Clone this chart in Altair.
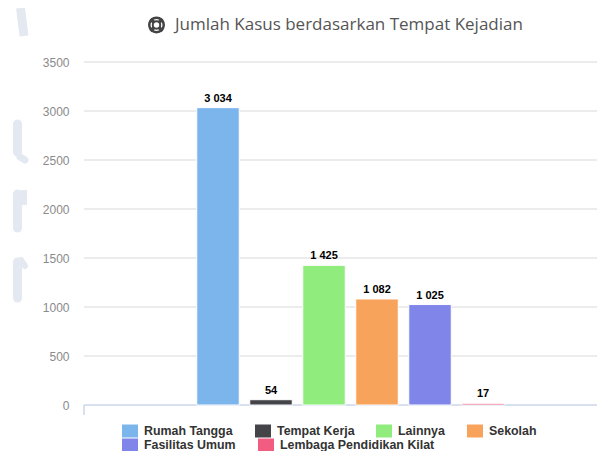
import altair as alt
import pandas as pd

categories = ["Rumah Tangga", "Tempat Kerja", "Lainnya", "Sekolah", "Fasilitas Umum", "Lembaga Pendidikan Kilat"]
values = [3034, 54, 1425, 1082, 1025, 17]
labels = ["3 034", "54", "1 425", "1 082", "1 025", "17"]
colors = ["#7cb5ec", "#434348", "#90ed7d", "#f7a35c", "#8085e9", "#f15c80"]
y_ticks = [0, 500, 1000, 1500, 2000, 2500, 3000, 3500]
title_text = "Jumlah Kasus berdasarkan Tempat Kejadian"

# layout of the hand-placed legend (page pixels), kept apart from the data
legend_x = [122, 255, 376, 467, 122, 258]
legend_y = [431, 431, 431, 431, 445, 445]

df = pd.DataFrame({"cat": categories, "val": values, "label": labels})
FONT = "Liberation Sans"
LEFT, TOP, W, H = 84, 62, 513, 343
one = df.head(1)
y_scale = alt.Scale(domain=[0, 3500], nice=False)
y_axis = alt.Axis(values=y_ticks, title=None, grid=False, domain=False, ticks=False,
                  labelFont=FONT, labelFontSize=12, labelColor="#8a8a8a", labelPadding=15, format="d")

x = alt.X("cat:N", sort=categories, axis=None,
          scale=alt.Scale(type="point", domain=categories, range=[134, 399], padding=0))
y = alt.Y("val:Q", scale=y_scale, axis=y_axis, title=None)
color = alt.Color("cat:N", sort=categories, legend=None,
                  scale=alt.Scale(domain=categories, range=colors))

grid = alt.Chart(pd.DataFrame({"val": y_ticks[1:]})).mark_rule(color="#e6e6e6", strokeWidth=1.5).encode(
    x=alt.value(0), x2=alt.value(W), y=y)

bars = alt.Chart(df).mark_bar(size=42.5, stroke="white", strokeWidth=1).encode(x=x, y=y, color=color)
text = alt.Chart(df).mark_text(font=FONT, fontSize=11, fontWeight="bold", color="black", dy=-9).encode(
    x=x, y=y, text="label:N")

axis_line = alt.Chart(one).mark_rule(color="#ccd6eb", strokeWidth=1.5).encode(
    x=alt.value(0), x2=alt.value(W), y=alt.value(H))
axis_tick = alt.Chart(one).mark_rule(color="#ccd6eb", strokeWidth=1.5).encode(
    x=alt.value(0), y=alt.value(H), y2=alt.value(H + 10))
title = alt.Chart(pd.DataFrame({"t": [title_text]})).mark_text(
    font="Open Sans", fontSize=17, color="#555555", align="left").encode(
    x=alt.value(91), y=alt.value(-37), text="t:N")

# life-ring icon
ICX, ICY = 72.5, -37
icon = [
    alt.Chart(one).mark_point(shape="circle", size=210, filled=False, stroke="#444444", strokeWidth=2.5, opacity=1).encode(
        x=alt.value(ICX), y=alt.value(ICY)),
    alt.Chart(one).mark_point(shape="circle", size=55, filled=False, stroke="#444444", strokeWidth=2, opacity=1).encode(
        x=alt.value(ICX), y=alt.value(ICY)),
]
for sx, sy in [(1, 1), (1, -1), (-1, 1), (-1, -1)]:
    icon.append(alt.Chart(one).mark_rule(color="#444444", strokeWidth=3.5).encode(
        x=alt.value(ICX + sx * 2.5), x2=alt.value(ICX + sx * 6),
        y=alt.value(ICY + sy * 2.5), y2=alt.value(ICY + sy * 6)))

# pale watermark fragments at the left edge
wm_color = "#e4e8f0"
def wm(x0, y0, x1, y1, w, cap="round"):
    return alt.Chart(one).mark_rule(color=wm_color, strokeWidth=w, strokeCap=cap).encode(
        x=alt.value(x0 - LEFT), x2=alt.value(x1 - LEFT), y=alt.value(y0 - TOP), y2=alt.value(y1 - TOP))

watermark = [
    wm(20.5, 8, 24, 36, 9, "butt"),
    wm(17.5, 124, 17.5, 152, 9),
    wm(20, 157, 25, 160, 7),
    wm(17.5, 194, 17.5, 228, 9),
    wm(24, 190, 24, 205, 6, "butt"),
    wm(17.5, 262, 17.5, 298, 9),
    wm(21, 260, 25, 266, 6),
]

# legend: one swatch and one label per category
legend_layers = []
for name, lx, ly in zip(categories, legend_x, legend_y):
    item = alt.Chart(pd.DataFrame({"cat": [name]}))
    legend_layers.append(item.mark_rect(opacity=1).encode(
        x=alt.value(lx - LEFT), x2=alt.value(lx + 16 - LEFT),
        y=alt.value(ly - 6.5 - TOP), y2=alt.value(ly + 6.5 - TOP), color=color))
    legend_layers.append(item.mark_text(font=FONT, fontSize=12.4, fontWeight="bold", color="#333333", align="left").encode(
        x=alt.value(lx + 22 - LEFT), y=alt.value(ly - TOP), text="cat:N"))

chart = alt.layer(*watermark, grid, axis_line, axis_tick, bars, text, title, *icon, *legend_layers).properties(
    width=W, height=H,
    autosize=alt.AutoSizeParams(type="none"),
    padding={"left": 76, "top": 54, "right": 0, "bottom": 46},
).configure_view(stroke=None)

chart.save("out.html", embed_options={"renderer": "svg", "actions": False})
